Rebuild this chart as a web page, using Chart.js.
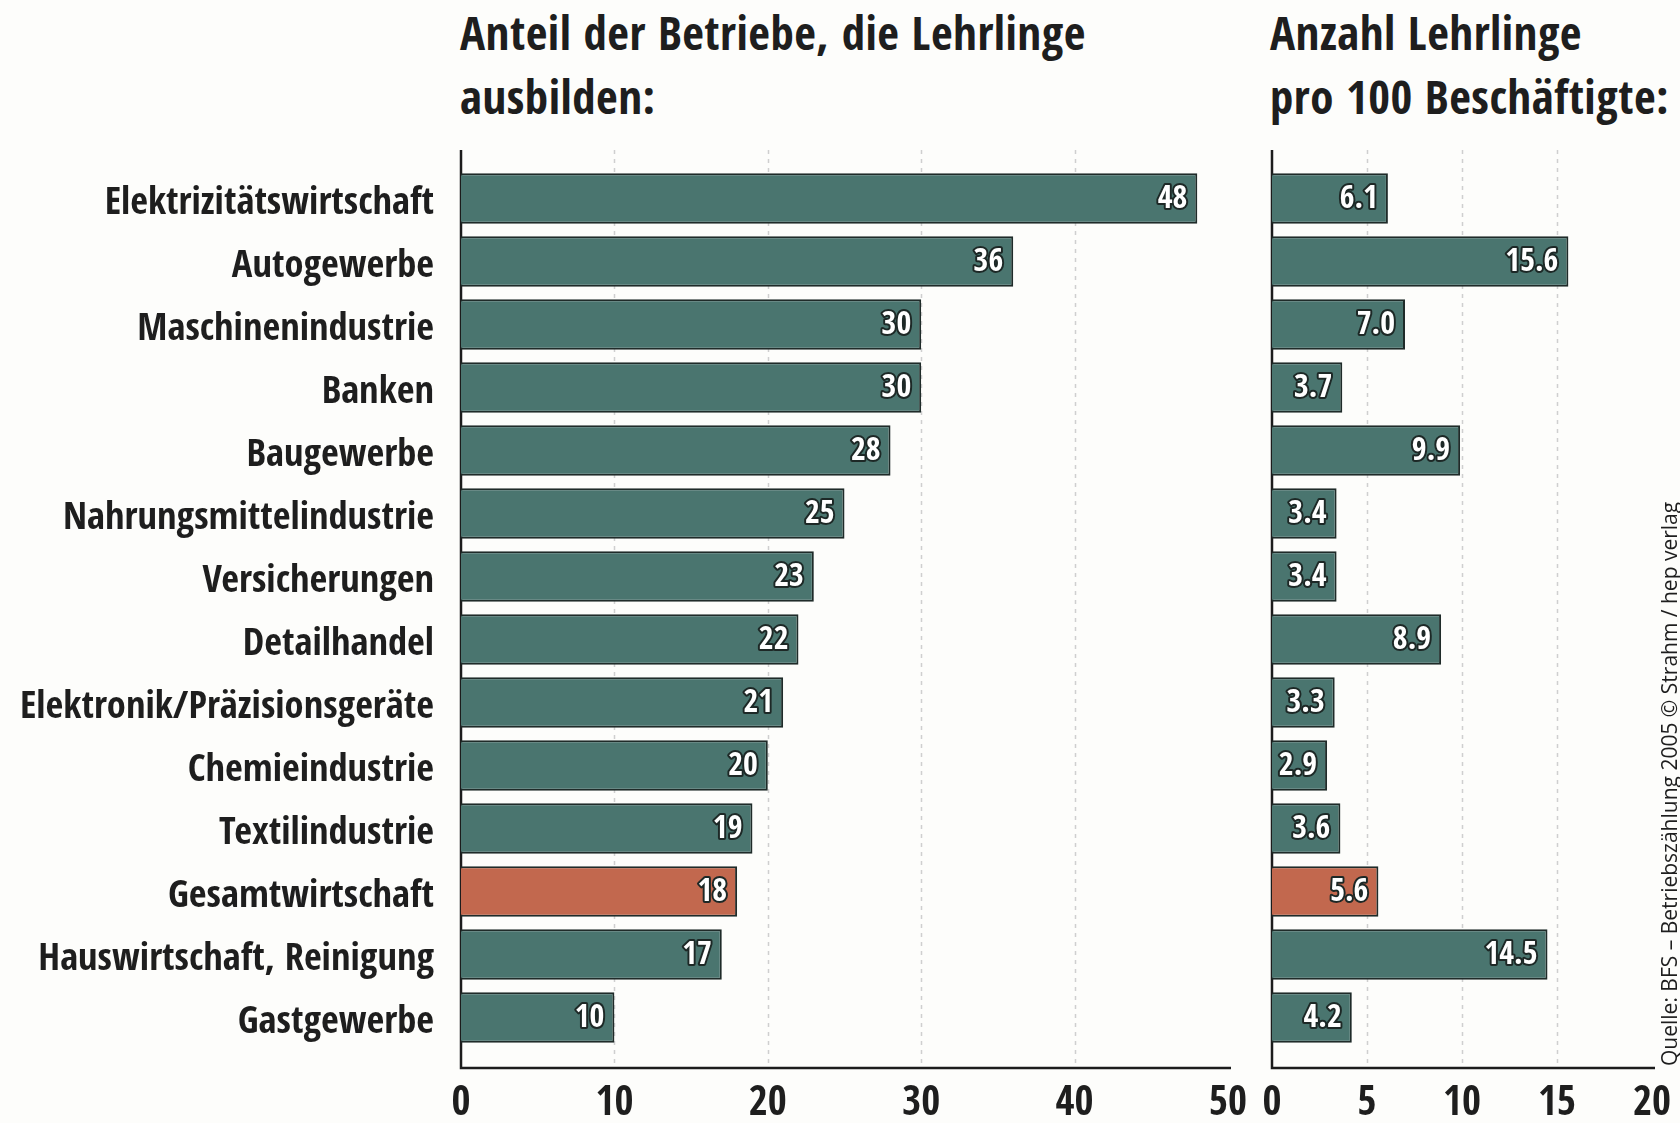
<!DOCTYPE html>
<html>
<head>
<meta charset="utf-8">
<script src="https://cdn.jsdelivr.net/npm/chart.js@4.4.1/dist/chart.umd.min.js"></script>
<style>
  body { margin: 0; background: #fdfdfb; }
  #wrap { position: relative; width: 1680px; height: 1123px; overflow: hidden; }
  .title { position: absolute; font-family: "Open Sans Condensed", "Roboto Condensed", sans-serif;
           font-weight: bold; font-size: 47px; letter-spacing: 0.5px; line-height: 64px; color: #1e1e1e; white-space: nowrap; }
  #c1 { position: absolute; left: 0; top: 0; }
  #c2 { position: absolute; left: 1250px; top: 0; }
</style>
</head>
<body>
<div id="wrap">
  <div class="title" style="left:460px;top:0px">Anteil der Betriebe, die Lehrlinge<br>ausbilden:</div>
  <div class="title" style="left:1270px;top:0px">Anzahl Lehrlinge<br>pro 100 Beschäftigte:</div>
  <canvas id="c1" width="1250" height="1123"></canvas>
  <canvas id="c2" width="430" height="1123"></canvas>
</div>
<script>
var branchen = ['Elektrizitätswirtschaft', 'Autogewerbe', 'Maschinenindustrie', 'Banken', 'Baugewerbe',
  'Nahrungsmittelindustrie', 'Versicherungen', 'Detailhandel', 'Elektronik/Präzisionsgeräte',
  'Chemieindustrie', 'Textilindustrie', 'Gesamtwirtschaft', 'Hauswirtschaft, Reinigung', 'Gastgewerbe'];
var anteilBetriebe = [48, 36, 30, 30, 28, 25, 23, 22, 21, 20, 19, 18, 17, 10];
var lehrlingePro100 = [6.1, 15.6, 7.0, 3.7, 9.9, 3.4, 3.4, 8.9, 3.3, 2.9, 3.6, 5.6, 14.5, 4.2];
var quelle = 'Quelle: BFS – Betriebszählung 2005 © Strahm / hep verlag';

var FONT = '"Open Sans Condensed", "Roboto Condensed", sans-serif';
var GREEN = '#4a756f', RED = '#c2684e';
var colors = branchen.map(function (b) { return b === 'Gesamtwirtschaft' ? RED : GREEN; });

// Achsenlinien, gestrichelte Gitterlinien und Wertebeschriftungen
var framePlugin = {
  id: 'frame',
  beforeDatasetsDraw: function (chart) {
    var ctx = chart.ctx, a = chart.chartArea, x = chart.scales.x, y = chart.scales.y;
    var step = y.getPixelForValue(1) - y.getPixelForValue(0);
    var top = a.top - step * 0.27, bottom = a.bottom + step * 0.3;
    ctx.save();
    ctx.strokeStyle = '#cfcfcf';
    ctx.lineWidth = 1.5;
    ctx.setLineDash([4, 5]);
    x.ticks.forEach(function (t) {
      if (t.value > x.min && t.value < x.max) {
        var px = Math.round(x.getPixelForValue(t.value)) + 0.5;
        ctx.beginPath(); ctx.moveTo(px, top); ctx.lineTo(px, bottom); ctx.stroke();
      }
    });
    ctx.setLineDash([]);
    ctx.strokeStyle = '#1c1c1c';
    ctx.lineWidth = 2.5;
    ctx.beginPath();
    ctx.moveTo(a.left, top); ctx.lineTo(a.left, bottom); ctx.lineTo(a.right + 3, bottom);
    ctx.stroke();
    ctx.restore();
  },
  afterDatasetsDraw: function (chart) {
    var ctx = chart.ctx, ds = chart.data.datasets[0];
    var meta = chart.getDatasetMeta(0);
    ctx.save();
    ctx.font = 'bold 32px ' + FONT;
    ctx.textAlign = 'right';
    ctx.textBaseline = 'middle';
    ctx.lineJoin = 'round';
    meta.data.forEach(function (bar, i) {
      var v = ds.data[i];
      var txt = ds.decimals ? v.toFixed(1) : String(v);
      ctx.lineWidth = 4;
      ctx.strokeStyle = '#1d2826';
      ctx.strokeText(txt, bar.x - 10, bar.y + 1);
      ctx.fillStyle = '#ffffff';
      ctx.fillText(txt, bar.x - 10, bar.y + 1);
    });
    ctx.restore();
  },
  afterDraw: function (chart, args, opts) {
    if (!opts.source) return;
    var ctx = chart.ctx;
    ctx.save();
    ctx.translate(421, 1066);
    ctx.rotate(-Math.PI / 2);
    ctx.font = '21px "Open Sans", sans-serif';
    ctx.fillStyle = '#1e1e1e';
    ctx.textAlign = 'left';
    ctx.textBaseline = 'middle';
    ctx.fillText(opts.source, 0, 0);
    ctx.restore();
  }
};

function makeChart(id, values, xMax, xStep, decimals, showLabels, padding, source) {
  return new Chart(document.getElementById(id), {
    type: 'bar',
    data: {
      labels: branchen,
      datasets: [{
        data: values,
        decimals: decimals,
        backgroundColor: colors,
        borderColor: '#1f2b29',
        borderWidth: 2,
        categoryPercentage: 1,
        barPercentage: 0.8
      }]
    },
    options: {
      indexAxis: 'y',
      responsive: false,
      animation: false,
      layout: { padding: padding },
      plugins: { legend: { display: false }, tooltip: { enabled: false }, frame: { source: source } },
      scales: {
        x: {
          min: 0, max: xMax,
          grid: { display: false, drawTicks: false },
          border: { display: false },
          ticks: { stepSize: xStep, padding: 31, color: '#1e1e1e', font: { family: FONT, size: 41, weight: 'bold' } },
          afterFit: function (s) { s.height = 74; s.paddingLeft = 0; s.paddingRight = 0; }
        },
        y: {
          display: showLabels,
          grid: { display: false, drawTicks: false },
          border: { display: false },
          ticks: { padding: 27, labelOffset: 5, color: '#1e1e1e', font: { family: FONT, size: 38.5, weight: 'bold' } },
          afterFit: function (s) { if (showLabels) s.width = 461; }
        }
      }
    },
    plugins: [framePlugin]
  });
}

makeChart('c1', anteilBetriebe, 50, 10, false, true, { left: 0, right: 22, top: 167, bottom: 0 }, null);
makeChart('c2', lehrlingePro100, 20, 5, true, false, { left: 22, right: 28, top: 167, bottom: 0 }, quelle);
</script>
</body>
</html>
